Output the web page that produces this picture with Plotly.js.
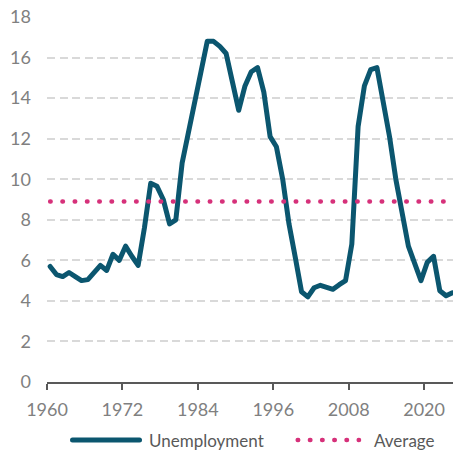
<!DOCTYPE html>
<html>
<head>
<meta charset="utf-8">
<script src="https://cdn.plot.ly/plotly-3.0.1.min.js"></script>
<style>
  html, body { margin: 0; padding: 0; background: #fff; }
  #chart { width: 453px; height: 452px; }
  .scatterlayer path.js-line { stroke-linecap: round !important; stroke-linejoin: round !important; }
  .shapelayer path { stroke-linecap: round !important; }
</style>
</head>
<body>
<div id="chart"></div>
<script>
// ---- Data ----
const years = [
  1960,1961,1962,1963,1964,1965,1966,1967,1968,1969,
  1970,1971,1972,1973,1974,1975,1976,1977,1978,1979,
  1980,1981,1982,1983,1984,1985,1986,1987,1988,1989,
  1990,1991,1992,1993,1994,1995,1996,1997,1998,1999,
  2000,2001,2002,2003,2004,2005,2006,2007,2008,2009,
  2010,2011,2012,2013,2014,2015,2016,2017,2018,2019,
  2020,2021,2022,2023,2024
];
const unemployment = [
  5.7,5.3,5.2,5.4,5.2,5.0,5.05,5.4,5.75,5.5,
  6.3,6.0,6.7,6.2,5.75,7.6,9.8,9.65,9.0,7.8,
  8.0,10.8,12.4,13.8,15.3,16.8,16.8,16.55,16.2,14.8,
  13.4,14.6,15.3,15.5,14.3,12.1,11.6,10.0,7.8,6.15,
  4.45,4.2,4.65,4.77,4.65,4.57,4.8,5.0,6.8,12.6,
  14.6,15.4,15.5,13.8,12.1,10.0,8.4,6.7,5.85,5.0,
  5.9,6.2,4.5,4.25,4.4
];
const averageValue = 8.9;
const xTickLabels = [1960, 1972, 1984, 1996, 2008, 2020];
const yTickLabels = [0, 2, 4, 6, 8, 10, 12, 14, 16, 18];
const seriesNames = ['Unemployment', 'Average'];

// annual values are plotted at mid-year
const xs = years.map(y => y + 0.5);
const avgX = [xs[0], xs[xs.length - 1]];
const avgY = avgX.map(() => averageValue);

const teal = '#0b566f';
const pink = '#d6317a';
const tickGray = '#808080';
const legendGray = '#595959';
const font = 'Lato, "Open Sans", sans-serif';

const traces = [
  { x: xs, y: unemployment, type: 'scatter', mode: 'lines', name: seriesNames[0],
    line: { color: teal, width: 5 }, hoverinfo: 'skip' },
  { x: avgX, y: avgY, type: 'scatter', mode: 'lines', name: seriesNames[1],
    line: { color: pink, width: 4.5, dash: '0.5px,11.78px' }, hoverinfo: 'skip' }
];

const L = 47, T = 17, B = 70, W = 453, H = 452;
const plotW = W - L, plotH = H - T - B;
const px = v => (v - L) / plotW;
const py = v => (H - B - v) / plotH;
const legY = py(440);

const layout = {
  width: W, height: H,
  margin: { l: L, r: 0, t: T, b: B, pad: 0 },
  paper_bgcolor: '#ffffff', plot_bgcolor: '#ffffff',
  showlegend: false,
  font: { family: font, size: 18, color: tickGray },
  xaxis: {
    range: [1960, 1960 + plotW / 6.285],
    tickmode: 'array', tickvals: xTickLabels, ticktext: xTickLabels.map(String),
    showgrid: false, zeroline: false,
    showline: true, linecolor: '#595959', linewidth: 2,
    ticks: 'outside', ticklen: 6, tickwidth: 2, tickcolor: '#595959',
    tickfont: { family: font, size: 18, color: tickGray },
    ticklabelstandoff: 4,
    fixedrange: true
  },
  yaxis: {
    range: [0, 18],
    tickmode: 'array', tickvals: yTickLabels, ticktext: yTickLabels.map(String),
    showgrid: true, gridcolor: '#d9d9d9', gridwidth: 2, griddash: '8.3px,4.2px',
    zeroline: false, showline: false, ticks: '',
    tickfont: { family: font, size: 18, color: tickGray },
    ticklabelstandoff: 15,
    fixedrange: true
  },
  shapes: [
    { type: 'line', xref: 'paper', yref: 'paper', x0: px(72.5), x1: px(139.5), y0: legY, y1: legY,
      line: { color: teal, width: 5 } },
    { type: 'line', xref: 'paper', yref: 'paper', x0: px(297.7), x1: px(359.0), y0: legY, y1: legY,
      line: { color: pink, width: 4.5, dash: '0.5px,11.7px' } }
  ],
  annotations: [
    { xref: 'paper', yref: 'paper', x: px(146.5), y: legY, xanchor: 'left', yanchor: 'middle',
      text: seriesNames[0], showarrow: false, font: { family: font, size: 17, color: legendGray } },
    { xref: 'paper', yref: 'paper', x: px(371.5), y: legY, xanchor: 'left', yanchor: 'middle',
      text: seriesNames[1], showarrow: false, font: { family: font, size: 17, color: legendGray } }
  ]
};

Plotly.newPlot('chart', traces, layout, { displayModeBar: false, staticPlot: true });
</script>
</body>
</html>
